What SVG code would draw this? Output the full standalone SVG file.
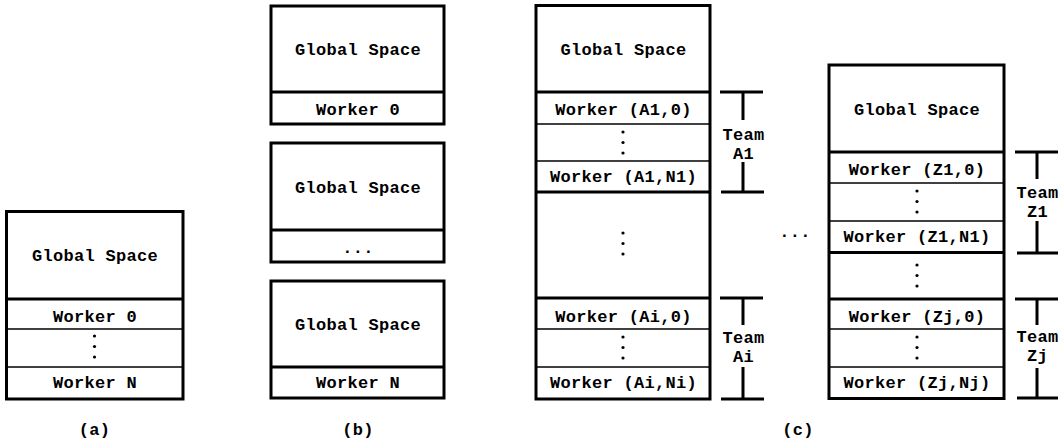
<svg xmlns="http://www.w3.org/2000/svg" width="1063" height="443" viewBox="0 0 1063 443">
<style>
.box{fill:#fff;stroke:#000;stroke-width:3}
.thick{stroke:#000;stroke-width:3;fill:none}
.thin{stroke:#000;stroke-width:1.5;fill:none}
.t{font-family:"Liberation Mono","Courier New",monospace;font-weight:bold;font-size:17px;letter-spacing:0.3px;text-anchor:middle;fill:#000}
.dot{fill:#000}
</style>
<rect width="1063" height="443" fill="#fff"/>
<defs>
<g id="vdots"><circle class="dot" cx="0" cy="0" r="1.6"/><circle class="dot" cx="0" cy="10.5" r="1.6"/><circle class="dot" cx="0" cy="21" r="1.6"/></g>
</defs>

<!-- (a) -->
<g id="panel-a">
<rect class="box" x="6.5" y="211.5" width="176.5" height="187.5"/>
<line class="thick" x1="6.5" y1="299" x2="183" y2="299"/>
<line class="thin" x1="6.5" y1="329" x2="183" y2="329"/>
<line class="thin" x1="6.5" y1="367" x2="183" y2="367"/>
<text class="t" x="95" y="261">Global Space</text>
<text class="t" x="95" y="322">Worker 0</text>
<use href="#vdots" x="94.5" y="336"/>
<text class="t" x="95" y="388">Worker N</text>
<text class="t" x="94.5" y="435">(a)</text>
</g>

<!-- (b) -->
<g id="panel-b-1">
<rect class="box" x="271" y="6" width="173" height="118"/>
<line class="thick" x1="271" y1="92" x2="444" y2="92"/>
<text class="t" x="358" y="55">Global Space</text>
<text class="t" x="358" y="115">Worker 0</text>
</g>
<g id="panel-b-2">
<rect class="box" x="271" y="143" width="173" height="119"/>
<line class="thick" x1="271" y1="230" x2="444" y2="230"/>
<text class="t" x="358" y="193">Global Space</text>
<text class="t" x="358" y="253">...</text>
</g>
<g id="panel-b-3">
<rect class="box" x="271" y="281" width="173" height="117"/>
<line class="thick" x1="271" y1="367" x2="444" y2="367"/>
<text class="t" x="358" y="330">Global Space</text>
<text class="t" x="358" y="388">Worker N</text>
</g>
<text class="t" x="358" y="435">(b)</text>

<!-- (c) left column -->
<g id="panel-c-A">
<rect class="box" x="536" y="5.5" width="174" height="393.5"/>
<line class="thick" x1="536" y1="92" x2="710" y2="92"/>
<line class="thin" x1="536" y1="124" x2="710" y2="124"/>
<line class="thin" x1="536" y1="161" x2="710" y2="161"/>
<line class="thick" x1="536" y1="192" x2="710" y2="192"/>
<line class="thick" x1="536" y1="298" x2="710" y2="298"/>
<line class="thin" x1="536" y1="329" x2="710" y2="329"/>
<line class="thin" x1="536" y1="367" x2="710" y2="367"/>
<text class="t" x="623.5" y="55">Global Space</text>
<text class="t" x="623.5" y="115">Worker (A1,0)</text>
<use href="#vdots" x="623" y="132"/>
<text class="t" x="623.5" y="182">Worker (A1,N1)</text>
<use href="#vdots" x="623" y="233"/>
<text class="t" x="623.5" y="322">Worker (Ai,0)</text>
<use href="#vdots" x="623" y="337"/>
<text class="t" x="623.5" y="388">Worker (Ai,Ni)</text>
</g>

<text class="t" x="795" y="237">...</text>

<!-- (c) right column -->
<g id="panel-c-Z">
<rect class="box" x="829" y="65" width="175" height="333.5"/>
<line class="thick" x1="829" y1="152" x2="1004" y2="152"/>
<line class="thin" x1="829" y1="183" x2="1004" y2="183"/>
<line class="thin" x1="829" y1="221" x2="1004" y2="221"/>
<line class="thick" x1="829" y1="252.5" x2="1004" y2="252.5"/>
<line class="thick" x1="829" y1="299" x2="1004" y2="299"/>
<line class="thin" x1="829" y1="329" x2="1004" y2="329"/>
<line class="thin" x1="829" y1="367" x2="1004" y2="367"/>
<text class="t" x="917" y="115">Global Space</text>
<text class="t" x="917" y="175">Worker (Z1,0)</text>
<use href="#vdots" x="917" y="191"/>
<text class="t" x="917" y="242">Worker (Z1,N1)</text>
<use href="#vdots" x="917" y="265"/>
<text class="t" x="917" y="322">Worker (Zj,0)</text>
<use href="#vdots" x="917" y="337"/>
<text class="t" x="917" y="388">Worker (Zj,Nj)</text>
</g>
<text class="t" x="798" y="435">(c)</text>

<!-- brackets -->
<g id="connectors">
<path class="thick" d="M720 92H763M743 92V120M743 162V192M721 192H764"/>
<path class="thick" d="M720 298H763M743 298V325M743 367V399M721 399H764"/>
<path class="thick" d="M1015 152H1058M1037 152V179M1037 221V253M1017 253H1058"/>
<path class="thick" d="M1015 299H1058M1037 299V325M1037 368V398M1017 398H1058"/>
</g>
<g id="team-labels">
<text class="t" x="743.5" y="140">Team</text>
<text class="t" x="743.5" y="159">A1</text>
<text class="t" x="743.5" y="343">Team</text>
<text class="t" x="743.5" y="362">Ai</text>
<text class="t" x="1037.5" y="198">Team</text>
<text class="t" x="1037.5" y="217">Z1</text>
<text class="t" x="1037.5" y="342">Team</text>
<text class="t" x="1037.5" y="361">Zj</text>
</g>
</svg>
